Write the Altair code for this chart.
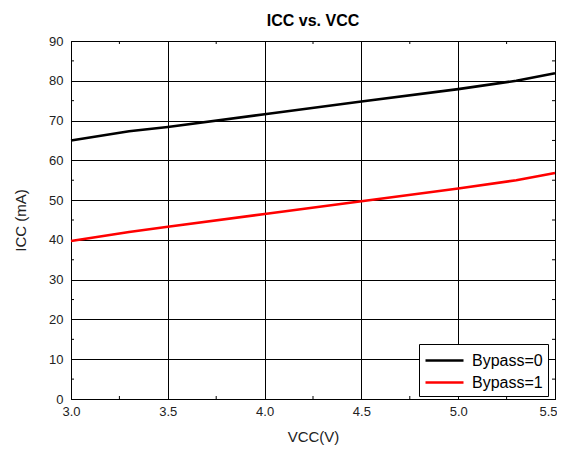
import altair as alt
import pandas as pd

# ---- data ----
vcc = [3.0, 3.3, 3.5, 4.0, 4.5, 5.0, 5.3, 5.5]
icc_bypass0 = [65.0, 67.3, 68.4, 71.6, 74.8, 77.9, 80.0, 81.9]
icc_bypass1 = [39.7, 42.0, 43.3, 46.5, 49.7, 52.9, 55.0, 56.8]
series = ["Bypass=0", "Bypass=1"]
colors = ["#000000", "#ff0000"]

x_ticks = [3.0, 3.5, 4.0, 4.5, 5.0, 5.5]
y_ticks = [0, 10, 20, 30, 40, 50, 60, 70, 80, 90]
x_minor = [3.25, 3.75, 4.25, 4.75, 5.25]
y_minor = [5, 15, 25, 35, 45, 55, 65, 75, 85]

W, H = 484, 358

rows = []
for v, a, b in zip(vcc, icc_bypass0, icc_bypass1):
    rows.append({"VCC": v, "ICC": a, "Series": series[0]})
    rows.append({"VCC": v, "ICC": b, "Series": series[1]})
df = pd.DataFrame(rows)
dfx = pd.DataFrame({"VCC": x_minor})
dfy = pd.DataFrame({"ICC": y_minor})

xscale = alt.Scale(domain=[3.0, 5.5], nice=False, zero=False)
yscale = alt.Scale(domain=[0, 90], nice=False)

xaxis = alt.Axis(values=x_ticks, format=".1f", title="VCC(V)",
                 titlePadding=11, labelPadding=6, labelFlush=False,
                 labelAlign={"condition": {"test": "datum.value >= 5.5", "value": "right"},
                             "value": "center"},
                 labelOffset={"condition": {"test": "datum.value >= 5.5", "value": 2},
                              "value": 0})
yaxis = alt.Axis(values=y_ticks, title="ICC (mA)", titlePadding=20,
                 labelPadding=8, labelFlush=False)

X = alt.X("VCC:Q", scale=xscale, axis=xaxis, title="VCC(V)")
Y = alt.Y("ICC:Q", scale=yscale, axis=yaxis, title="ICC (mA)")

lines = alt.Chart(df).mark_line(strokeWidth=2.6).encode(
    x=X, y=Y,
    color=alt.Color("Series:N", scale=alt.Scale(domain=series, range=colors),
                    legend=alt.Legend(title=None, orient="none", legendX=348, legendY=303,
                                      strokeColor="black", fillColor="white",
                                      padding=5, symbolType="M-1,0H2.8",
                                      symbolStrokeWidth=2.6, symbolSize=400,
                                      labelFontSize=16, labelColor="black",
                                      labelFont="Liberation Sans", labelOffset=25,
                                      rowPadding=2, cornerRadius=0)),
)

xt_bot = alt.Chart(dfx).mark_rule(color="black", strokeWidth=1).encode(
    x=X, y=alt.value(H), y2=alt.value(H - 3))
xt_top = alt.Chart(dfx).mark_rule(color="black", strokeWidth=1).encode(
    x=X, y=alt.value(0), y2=alt.value(3))
yt_left = alt.Chart(dfy).mark_rule(color="black", strokeWidth=1).encode(
    y=Y, x=alt.value(0), x2=alt.value(3))
yt_right = alt.Chart(dfy).mark_rule(color="black", strokeWidth=1).encode(
    y=Y, x=alt.value(W - 3), x2=alt.value(W))

chart = alt.layer(lines, xt_bot, xt_top, yt_left, yt_right).properties(
    width=W, height=H,
    background="white",
    title=alt.TitleParams("ICC vs. VCC", fontSize=16, fontWeight="bold",
                          font="Liberation Sans", color="black", offset=6),
    autosize=alt.AutoSizeParams(type="none"),
    padding={"left": 63, "top": 33, "right": 2, "bottom": 48},
).configure_view(
    stroke="black", strokeWidth=1
).configure_axis(
    grid=True, gridColor="black", gridOpacity=1, gridWidth=1,
    domainColor="black", domainWidth=1, tickSize=0,
    labelFont="Liberation Sans", labelFontSize=13, labelColor="#222222",
    titleFont="Liberation Sans", titleFontSize=15, titleFontWeight="normal",
    titleColor="#222222",
)

chart.save("out.html", embed_options={"renderer": "svg", "actions": False})
